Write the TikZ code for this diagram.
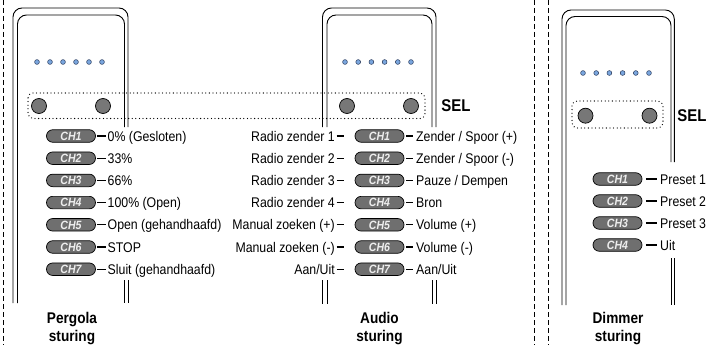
\documentclass[tikz,border=0pt]{standalone}
\usepackage{fontspec}
\setmainfont{Liberation Sans}
\newfontfamily\cond[FakeStretch=0.88]{Liberation Sans}
\definecolor{ledblue}{HTML}{7AA6DE}
\definecolor{ledline}{HTML}{2A3A5A}
\definecolor{btngray}{HTML}{777777}
\definecolor{pillgray}{HTML}{6F6F6F}
\definecolor{pilltext}{HTML}{EEEEEE}
\tikzset{
  remoteln/.style={line width=0.9pt, rounded corners=9pt},
  led/.style={circle, draw=ledline, fill=ledblue, line width=0.5pt, minimum size=4.8pt, inner sep=0pt},
  btn/.style={circle, draw=black, fill=btngray, line width=0.7pt, minimum size=15pt, inner sep=0pt},
  pill/.style={rectangle, rounded corners=6.2pt, minimum width=49pt, minimum height=12.5pt, inner sep=0pt,
    fill=pillgray, draw=black, line width=0.7pt, text=pilltext,
    font=\cond\bfseries\itshape\fontsize{12}{14}\selectfont, text height=8.6pt, text depth=0pt},
  lbl/.style={inner sep=0pt, font=\cond\fontsize{14}{16}\selectfont, text height=10pt, text depth=0pt},
  title/.style={inner sep=0pt, font=\cond\bfseries\fontsize{15.5}{18}\selectfont, anchor=base},
  sel/.style={inner sep=0pt, font=\cond\bfseries\fontsize{17}{19}\selectfont},
  dashln/.style={line width=1.1pt},
  selbox/.style={line width=1.3pt, dash pattern=on 0pt off 3.6pt, line cap=round, rounded corners=5pt},
  divider/.style={line width=0.9pt, dash pattern=on 5pt off 3pt}
}
\begin{document}
\begin{tikzpicture}[x=1pt,y=-1pt]
\useasboundingbox (0,0) rectangle (726,345);
% dividers
\draw[divider] (3,0) -- (3,345);
\draw[divider] (534.5,0) -- (534.5,345);
\draw[divider] (548,0) -- (548,345);

% ---------- Pergola remote ----------
\draw[remoteln] (13,303) -- (13,8) -- (128,8) -- (128,127);
\draw[remoteln] (17.5,303) -- (17.5,15) -- (124.5,15) -- (124.5,127);
\draw[line width=0.9pt] (128,280) -- (128,303) (124.5,280) -- (124.5,303);
\foreach \i/\x in {1/37,2/50,3/63,4/76,5/89,6/102}
  \node[led] (pl\i) at (\x,62) {};
\node[btn] (pb1) at (39,106) {};
\node[btn] (pb2) at (103,106) {};

% ---------- Audio remote ----------
\draw[remoteln] (322.5,127) -- (322.5,8) -- (436,8) -- (436,127);
\draw[remoteln] (327,127) -- (327,15) -- (432,15) -- (432,127);
\draw[line width=0.9pt] (322.5,280) -- (322.5,304) (327,280) -- (327,304)
  (432,280) -- (432,304) (436,280) -- (436,304);
\foreach \i/\x in {1/345,2/358.2,3/371.4,4/384.6,5/397.8,6/411}
  \node[led] (al\i) at (\x,62) {};
\node[btn] (ab1) at (347,106) {};
\node[btn] (ab2) at (411,106) {};

% shared SEL box
\draw[selbox] (28,93) rectangle (425,118.5);
\node[sel] (sel1) at (456,106) {SEL};

% ---------- Dimmer remote ----------
\draw[remoteln] (562,305) -- (562,10) -- (674.3,10) -- (674.3,162);
\draw[remoteln] (566,305) -- (566,16.5) -- (671,16.5) -- (671,162);
\draw[line width=0.9pt] (674.3,258) -- (674.3,305) (671,258) -- (671,305);
\foreach \i/\x in {1/583,2/596.2,3/609.4,4/622.6,5/635.8,6/649}
  \node[led] (dl\i) at (\x,73) {};
\node[btn] (db1) at (585.5,115.7) {};
\node[btn] (db2) at (649.5,115.7) {};
\draw[selbox] (572,101) rectangle (663,128);
\node[sel] (sel2) at (692,116) {SEL};

% ---------- Pergola channels ----------
\foreach \i/\t [evaluate=\i as \yy using 136+22.2*(\i-1)] in
  {1/0\% (Gesloten),2/33\%,3/66\%,4/100\% (Open),5/Open (gehandhaafd),6/STOP,7/Sluit (gehandhaafd)}{
  \node[pill] (pp\i) at (71,\yy) {CH\i};
  \node[lbl, anchor=west] (pt\i) at (107.5,\yy) {\t};
  \draw[dashln] ([xshift=1.5pt]pp\i.east) -- ([xshift=-2pt]pt\i.west);
}

% ---------- Audio channels ----------
\foreach \i [evaluate=\i as \yy using 136+22.2*(\i-1)] in {1,...,7}{
  \node[pill] (ap\i) at (379.5,\yy) {CH\i};
}
\foreach \i/\l [evaluate=\i as \yy using 136+22.2*(\i-1)] in
  {1/Radio zender 1,2/Radio zender 2,3/Radio zender 3,4/Radio zender 4,
   5/Manual zoeken (+),6/Manual zoeken (-),7/Aan{/}Uit}{
  \node[lbl, anchor=east] (atl\i) at (335,\yy) {\l};
  \draw[dashln] ([xshift=1.5pt]atl\i.east) -- ([xshift=-11pt]ap\i.west);
}
\foreach \i/\r [evaluate=\i as \yy using 136+22.2*(\i-1)] in
  {1/Zender {/} Spoor (+),2/Zender {/} Spoor (-),3/Pauze {/} Dempen,4/Bron,
   5/Volume (+),6/Volume (-),7/Aan{/}Uit}{
  \node[lbl, anchor=west] (atr\i) at (416,\yy) {\r};
  \draw[dashln] ([xshift=2pt]ap\i.east) -- ([xshift=-3pt]atr\i.west);
}

% ---------- Dimmer channels ----------
\foreach \i/\t [evaluate=\i as \yy using 179+22*(\i-1)] in
  {1/Preset 1,2/Preset 2,3/Preset 3,4/Uit}{
  \node[pill] (dp\i) at (617.5,\yy) {CH\i};
  \node[lbl, anchor=west] (dt\i) at (660,\yy) {\t};
  \draw[dashln] ([xshift=3.5pt]dp\i.east) -- ([xshift=-3.5pt]dt\i.west);
}

% ---------- titles ----------
\node[title] (ti1a) at (72,323.5) {Pergola};
\node[title] (ti1b) at (72,341.5) {sturing};
\node[title] (ti2a) at (379.5,323.5) {Audio};
\node[title] (ti2b) at (379.5,341.5) {sturing};
\node[title] (ti3a) at (618,323) {Dimmer};
\node[title] (ti3b) at (618,341) {sturing};
\end{tikzpicture}
\end{document}
